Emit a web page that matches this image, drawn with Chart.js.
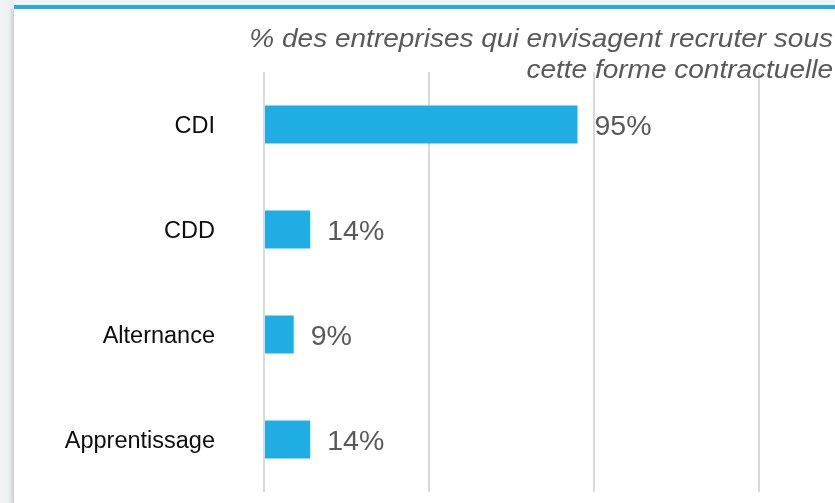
<!DOCTYPE html>
<html>
<head>
<meta charset="utf-8">
<script src="https://cdn.jsdelivr.net/npm/chart.js@4.4.1/dist/chart.umd.min.js"></script>
<style>
	html, body { margin: 0; padding: 0; background: #eef3f6; }
	#wrap { width: 835px; height: 503px; position: relative; }
</style>
</head>
<body>
<div id="wrap"><canvas id="contractChart"></canvas></div>
<script>
const categories = ['CDI', 'CDD', 'Alternance', 'Apprentissage'];
const shares = [95, 14, 9, 14];
const titleLines = ['% des entreprises qui envisagent recruter sous', 'cette forme contractuelle'];

const barColor = '#1fade4';
const gridColor = '#d9d9d9';
const textGrey = '#595959';
const fontFamily = '"Liberation Sans", Arial, sans-serif';

// Panel background: light page, white card with blue top border
const panelBg = {
	id: 'panelBg',
	beforeDraw(chart) {
		const { ctx, width, height } = chart;
		ctx.save();
		const bg = ctx.createLinearGradient(0, 0, 14, 0);
		bg.addColorStop(0, '#f3f6f8');
		bg.addColorStop(1, '#e6ecf0');
		ctx.fillStyle = bg;
		ctx.fillRect(0, 0, width, height);
		ctx.fillStyle = '#f2f5f7';
		ctx.fillRect(14, 0, width - 14, 5);
		const sh = ctx.createLinearGradient(9, 0, 14, 0);
		sh.addColorStop(0, 'rgba(0,0,0,0)');
		sh.addColorStop(1, 'rgba(0,0,0,0.12)');
		ctx.fillStyle = sh;
		ctx.fillRect(9, 9, 5, height - 9);
		ctx.fillStyle = '#ffffff';
		ctx.fillRect(14, 9, width - 14, height - 9);
		ctx.fillStyle = '#1fade4';
		ctx.fillRect(14, 5, width - 14, 4);
		ctx.restore();
	},
};

// Category labels, italic subtitle at top right, value labels after each bar
const overlay = {
	id: 'overlay',
	afterDatasetsDraw(chart) {
		const { ctx } = chart;
		const yScale = chart.scales.y;
		ctx.save();

		ctx.fillStyle = '#0d0d0d';
		ctx.font = '23.5px ' + fontFamily;
		ctx.textAlign = 'right';
		ctx.textBaseline = 'alphabetic';
		categories.forEach((c, i) => {
			ctx.fillText(c, 215, yScale.getPixelForTick(i) + 8.4);
		});

		// the subtitle is drawn a bit wider, like the reference
		ctx.fillStyle = textGrey;
		ctx.font = 'italic 25px ' + fontFamily;
		ctx.textAlign = 'right';
		ctx.save();
		ctx.translate(833, 0);
		ctx.scale(1.12, 1);
		ctx.fillText(titleLines[0], 0, 47);
		ctx.fillText(titleLines[1], 0, 78);
		ctx.restore();

		ctx.font = '28.5px ' + fontFamily;
		ctx.textAlign = 'left';
		chart.getDatasetMeta(0).data.forEach((bar, i) => {
			ctx.fillText(shares[i] + '%', bar.x + 17, bar.y + 10.3);
		});
		ctx.restore();
	},
};

new Chart(document.getElementById('contractChart'), {
	type: 'bar',
	data: {
		labels: categories,
		datasets: [{
			data: shares,
			backgroundColor: barColor,
			borderWidth: 0,
			categoryPercentage: 1,
			barPercentage: 0.36,
		}],
	},
	options: {
		indexAxis: 'y',
		responsive: true,
		maintainAspectRatio: false,
		animation: false,
		layout: { padding: { left: 0, right: 76, top: 72, bottom: 11 } },
		plugins: {
			legend: { display: false },
			tooltip: { enabled: false },
		},
		scales: {
			x: {
				min: 0,
				max: 150,
				ticks: { stepSize: 50, display: false },
				grid: { color: gridColor, lineWidth: 2, drawTicks: false },
				border: { display: false },
				afterFit: (s) => { s.height = 0; },
			},
			y: {
				grid: { display: false, drawTicks: false },
				border: { display: false },
				ticks: { display: false },
				afterFit: (s) => { s.width = 264; },
			},
		},
	},
	plugins: [panelBg, overlay],
});
</script>
</body>
</html>
